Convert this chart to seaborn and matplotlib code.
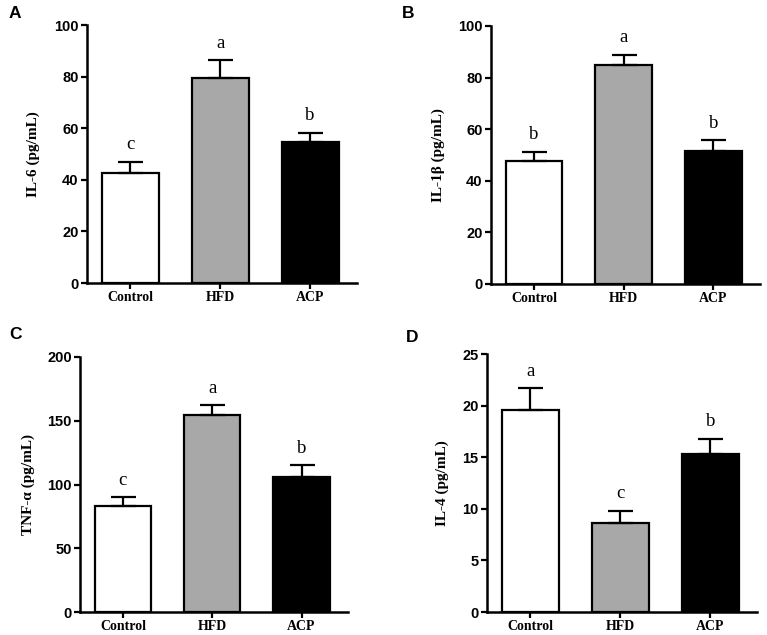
import numpy as np
import pandas as pd
import matplotlib
matplotlib.use("Agg")
import matplotlib.pyplot as plt
import seaborn as sns

sns.set_style("ticks", {"axes.edgecolor": "black", "text.color": "black",
                        "xtick.color": "black", "ytick.color": "black",
                        "axes.labelcolor": "black"})
plt.rcParams["font.family"] = ["Liberation Serif", "DejaVu Serif"]

groups = ["Control", "HFD", "ACP"]
bar_colors = ["#ffffff", "#a8a8a8", "#000000"]

il6_mean = [42.5, 79.3, 54.6]
il6_err = [4.5, 7.0, 3.6]
il6_letters = ["c", "a", "b"]

il1b_mean = [47.5, 84.8, 51.6]
il1b_err = [3.8, 4.1, 4.1]
il1b_letters = ["b", "a", "b"]

tnf_mean = [83.0, 154.5, 106.0]
tnf_err = [7.0, 7.5, 9.0]
tnf_letters = ["c", "a", "b"]

il4_mean = [19.6, 8.6, 15.3]
il4_err = [2.1, 1.2, 1.5]
il4_letters = ["a", "c", "b"]

panels = [
    ("A", "IL-6 (pg/mL)", il6_mean, il6_err, il6_letters, 100, 20,
     [0.1134, 0.5543, 0.352, 0.4063], (15, 13), 33),
    ("B", "IL-1β (pg/mL)", il1b_mean, il1b_err, il1b_letters, 100, 20,
     [0.640, 0.5528, 0.351, 0.4063], (408, 13), 438),
    ("C", "TNF-α (pg/mL)", tnf_mean, tnf_err, tnf_letters, 200, 50,
     [0.1043, 0.0362, 0.3494, 0.4016], (15, 335), 28),
    ("D", "IL-4 (pg/mL)", il4_mean, il4_err, il4_letters, 25, 5,
     [0.635, 0.0362, 0.352, 0.4063], (412, 337), 442),
]

W, H = 767, 635
fig = plt.figure(figsize=(W / 100, H / 100), dpi=100)

for tag, ylabel, means, errs, letters, ymax, ystep, rect, tag_xy, ylab_x in panels:
    ax = fig.add_axes(rect)
    df = pd.DataFrame({"group": groups, "value": means})
    sns.barplot(data=df, x="group", y="value", hue="group", palette=bar_colors,
                edgecolor="black", linewidth=1.6, width=0.63, legend=False,
                errorbar=None, ax=ax)
    x = np.arange(len(groups))
    ax.errorbar(x, means, yerr=[np.zeros(len(errs)), errs], fmt="none",
                ecolor="black", elinewidth=1.6, capsize=9, capthick=1.6, zorder=1)
    for xi, m, e, lab in zip(x, means, errs, letters):
        ax.annotate(lab, (xi, m + e), xytext=(0, 9), textcoords="offset points",
                    ha="center", va="baseline", fontsize=13.5, color="black")
    ax.set_xlim(-0.48, 2.52)
    ax.set_ylim(0, ymax)
    ax.set_yticks(np.arange(0, ymax + 1, ystep))
    ax.set_xlabel("")
    ax.set_ylabel("")
    for lbl in ax.get_yticklabels():
        lbl.set_fontfamily("Liberation Sans")
        lbl.set_fontweight("bold")
        lbl.set_fontsize(10.5)
    for lbl in ax.get_xticklabels():
        lbl.set_fontweight("bold")
        lbl.set_fontsize(10)
    ax.tick_params(width=1.6, length=4, pad=2, colors="black")
    for s in ["left", "bottom"]:
        ax.spines[s].set_linewidth(1.8)
        ax.spines[s].set_color("black")
    sns.despine(ax=ax)
    ylab_y = rect[1] + rect[3] / 2
    fig.text(ylab_x / W, ylab_y, ylabel, rotation=90, ha="center", va="center",
             fontsize=11, fontweight="bold", color="black")
    fig.text(tag_xy[0] / W, 1 - tag_xy[1] / H, tag, ha="center", va="center",
             fontsize=12.5, fontweight="bold", family="Liberation Sans",
             color="black")

fig.savefig("out.png", dpi=100)
